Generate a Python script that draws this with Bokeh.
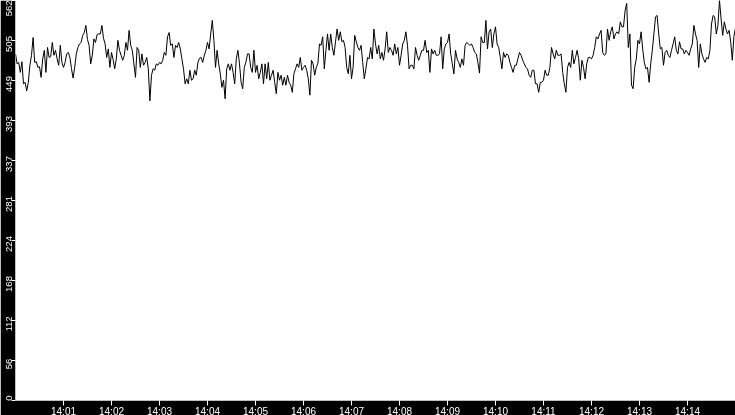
import numpy as np
import pandas as pd
from bokeh.plotting import figure
from bokeh.models import Range1d, FixedTicker
from bokeh.embed import file_html
from bokeh.resources import INLINE

day = "2024-01-01 "
start_time = pd.Timestamp(day + "14:00:00")
end_time = pd.Timestamp(day + "14:15:00")
sample_seconds = 2

minute_00 = [487, 473, 475, 461, 476, 445, 447, 435, 447, 471, 485, 510, 475, 476, 468, 469, 454, 480, 492, 461, 496, 482, 483, 503, 485, 492, 480, 471, 499, 475]
minute_01 = [468, 475, 487, 489, 482, 466, 453, 468, 487, 496, 501, 503, 513, 517, 527, 507, 499, 473, 485, 508, 503, 514, 515, 515, 527, 509, 501, 482, 494, 468]
minute_02 = [489, 479, 466, 480, 506, 492, 485, 478, 485, 503, 492, 520, 499, 492, 473, 454, 496, 492, 468, 487, 471, 475, 482, 466, 421, 457, 466, 464, 473, 471]
minute_03 = [475, 473, 478, 489, 485, 511, 517, 499, 501, 482, 499, 496, 503, 494, 480, 466, 445, 452, 445, 464, 450, 452, 464, 457, 475, 481, 482, 475, 485, 492]
minute_04 = [503, 494, 515, 534, 506, 468, 492, 473, 459, 440, 450, 424, 466, 473, 464, 473, 461, 445, 480, 492, 473, 447, 438, 468, 475, 487, 487, 468, 461, 492]
minute_05 = [461, 471, 452, 461, 473, 445, 473, 452, 475, 450, 457, 464, 447, 431, 461, 450, 457, 443, 454, 443, 457, 447, 443, 433, 459, 466, 473, 468, 482, 464]
minute_06 = [468, 471, 464, 452, 429, 478, 473, 457, 468, 474, 501, 499, 511, 466, 492, 515, 492, 515, 496, 485, 504, 522, 506, 518, 504, 506, 496, 468, 459, 485]
minute_07 = [452, 468, 513, 504, 496, 492, 499, 475, 452, 466, 482, 480, 496, 480, 522, 501, 487, 499, 480, 489, 478, 494, 518, 489, 496, 492, 485, 501, 487, 496]
minute_08 = [471, 485, 501, 506, 518, 499, 466, 471, 471, 466, 496, 485, 478, 485, 492, 492, 506, 489, 492, 461, 494, 487, 492, 485, 485, 487, 511, 466, 494, 501]
minute_09 = [503, 515, 487, 473, 459, 492, 480, 475, 468, 480, 471, 499, 503, 501, 499, 501, 496, 489, 487, 475, 460, 511, 503, 503, 534, 494, 518, 522, 496, 515]
minute_10 = [525, 501, 496, 482, 466, 489, 482, 487, 485, 475, 468, 461, 471, 471, 480, 489, 485, 478, 473, 468, 466, 457, 454, 464, 464, 445, 445, 433, 447, 447]
minute_11 = [450, 464, 457, 457, 468, 496, 487, 480, 492, 485, 485, 487, 461, 445, 433, 468, 475, 468, 492, 473, 482, 492, 480, 450, 478, 468, 452, 473, 482, 482]
minute_12 = [480, 485, 496, 511, 508, 515, 520, 489, 485, 487, 522, 506, 518, 525, 508, 515, 518, 515, 532, 525, 525, 548, 558, 496, 515, 443, 438, 468, 480, 506]
minute_13 = [501, 518, 494, 475, 466, 468, 447, 473, 492, 515, 539, 541, 515, 494, 496, 471, 489, 492, 485, 482, 492, 501, 511, 492, 487, 504, 494, 494, 487, 492]
minute_14 = [489, 485, 494, 501, 527, 515, 506, 468, 501, 487, 480, 475, 482, 480, 492, 529, 541, 539, 515, 527, 562, 536, 513, 532, 522, 515, 520, 504, 478, 511, 524]

samples = (minute_00 + minute_01 + minute_02 + minute_03 + minute_04 + minute_05 + minute_06 + minute_07
           + minute_08 + minute_09 + minute_10 + minute_11 + minute_12 + minute_13 + minute_14)
times = start_time + pd.to_timedelta(np.arange(len(samples)) * sample_seconds, unit="s")

y_max = 562.0
y_ticks = [0, 56.2, 112.4, 168.6, 224.8, 281.0, 337.2, 393.4, 449.6, 505.8, 562.0]
y_tick_labels = ["0", "56", "112", "168", "224", "281", "337", "393", "449", "505", "562"]
x_tick_labels = ["14:01", "14:02", "14:03", "14:04", "14:05", "14:06", "14:07",
                 "14:08", "14:09", "14:10", "14:11", "14:12", "14:13", "14:14"]
x_ticks_ms = [float(v) for v in pd.to_datetime([day + t for t in x_tick_labels]).asi8 / 1e6]

frame_w, frame_h = 720, 400
units_per_px = y_max / frame_h
# the rotated value labels sit a little below their tick marks (the "0" a little above)
label_shift_px = [-2.5] + [3.5] * (len(y_ticks) - 2) + [6.0]
y_label_pos = [float(v - s * units_per_px) for v, s in zip(y_ticks, label_shift_px)]

p = figure(frame_width=frame_w, frame_height=frame_h, x_axis_type="datetime",
           x_range=Range1d(start_time.to_pydatetime(), end_time.to_pydatetime()),
           y_range=Range1d(0, y_max),
           toolbar_location=None, output_backend="svg",
           min_border_left=15, min_border_bottom=15, min_border_top=0, min_border_right=0,
           background_fill_color="white", border_fill_color="black", outline_line_color=None)
p.styles = {"position": "fixed", "left": "0px", "top": "0px"}
p.grid.visible = False

p.line(times, samples, line_color="black", line_width=1)

xa = p.xaxis[0]
xa.ticker = FixedTicker(ticks=x_ticks_ms)
xa.major_label_overrides = {t: lab for t, lab in zip(x_ticks_ms, x_tick_labels)}
xa.axis_line_color = None
xa.major_tick_line_color = "white"
xa.major_tick_in = 0
xa.major_tick_out = 5
xa.minor_tick_line_color = None
xa.major_label_standoff = 0
xa.major_label_text_color = "white"
xa.major_label_text_font = "Liberation Sans"
xa.major_label_text_font_size = "10px"

ya = p.yaxis[0]
ya.ticker = FixedTicker(ticks=y_label_pos, minor_ticks=y_ticks)
ya.major_label_overrides = {pos: lab for pos, lab in zip(y_label_pos, y_tick_labels)}
ya.axis_line_color = None
ya.major_tick_line_color = None
ya.major_tick_in = 0
ya.major_tick_out = 0
ya.minor_tick_line_color = "white"
ya.minor_tick_in = 0
ya.minor_tick_out = 4
ya.major_label_standoff = 0
ya.major_label_orientation = "vertical"
ya.major_label_text_color = "white"
ya.major_label_text_font = "Liberation Sans"
ya.major_label_text_font_size = "9.5px"

open("out.html", "w").write(file_html(p, INLINE))
